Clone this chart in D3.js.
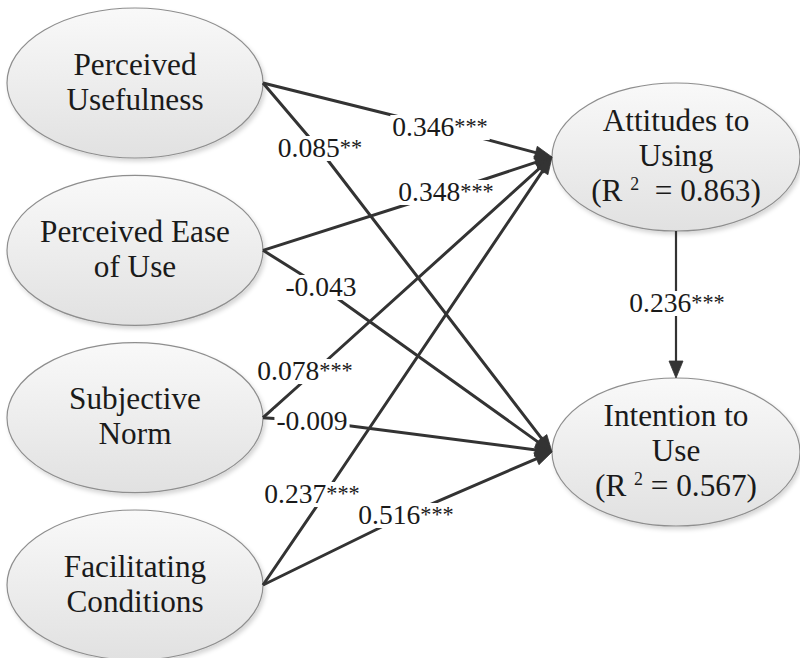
<!DOCTYPE html>
<html><head><meta charset="utf-8">
<script src="https://cdn.jsdelivr.net/npm/d3@7"></script>
<style>html,body{margin:0;padding:0;background:#fff;} svg{display:block;} text{white-space:pre;}</style>
</head><body>
<svg id="chart" width="800" height="658"></svg>
<script>
// ---- data ----
const nodeIds = ["PU", "PEOU", "SN", "FC", "ATT", "INT"];
const nodeLabels = [["Perceived", "Usefulness"], ["Perceived Ease", "of Use"], ["Subjective", "Norm"],
                    ["Facilitating", "Conditions"], ["Attitudes to", "Using"], ["Intention to", "Use"]];
const rSquared = [null, null, null, null, 0.863, 0.567];
const rSquaredGap = ["", "", "", "", "  ", " "];
const pathFrom = ["PU", "PU", "PEOU", "PEOU", "SN", "SN", "FC", "FC", "ATT"];
const pathTo   = ["ATT", "INT", "ATT", "INT", "ATT", "INT", "ATT", "INT", "INT"];
const pathCoef = [0.346, 0.085, 0.348, -0.043, 0.078, -0.009, 0.237, 0.516, 0.236];
const pathSig  = ["***", "**", "***", "", "***", "", "***", "***", "***"];

// ---- font detection (pick an installed serif face) ----
const cv = document.createElement("canvas").getContext("2d");
function w(font, s) { cv.font = font; return cv.measureText(s).width; }
const probe = "Perceived Ease 0.346 mmmWWWiii";
const candidates = ["Liberation Serif", "Tinos", "Times New Roman", "DejaVu Serif", "Noto Serif", "FreeSerif"];
let FONT = "serif";
for (const c of candidates) {
  if (Math.abs(w(`40px "${c}", monospace`, probe) - w("40px monospace", probe)) > 1 &&
      Math.abs(w(`40px "${c}", sans-serif`, probe) - w("40px sans-serif", probe)) > 1) { FONT = `"${c}"`; break; }
}
const NODE_FS = Math.max(20, Math.min(34, 30 * 190 / w(`30px ${FONT}`, "Perceived Ease")));
const LAB_FS = Math.max(18, Math.min(30, 27 * 62 / w(`27px ${FONT}`, "0.346")));
const STAR_FS = LAB_FS * 0.81;

// ---- layout ----
const leftRows = d3.scalePoint().domain(["PU", "PEOU", "SN", "FC"]).range([83, 585]);
const rightRows = d3.scalePoint().domain(["ATT", "INT"]).range([157, 452]);
const colX = d3.scaleOrdinal().domain(["left", "right"]).range([135, 676]);
const bendPts = [[440,127],[320,150],[446,192],[320,286],[305,380],[312,421],[323,497],[406,515],null];
const labelPts = [[440,127],[320,148],[446,192],[321,287],[305,371],[312,421],[312,494],[406,515],[677,303]];

const svg = d3.select("#chart");
const defs = svg.append("defs");
const grad = defs.append("linearGradient").attr("id","nodeFill").attr("x1",0).attr("y1",0).attr("x2",0).attr("y2",1);
grad.append("stop").attr("offset","0%").attr("stop-color","#f9f9f9");
grad.append("stop").attr("offset","100%").attr("stop-color","#e1e1e1");
const filt = defs.append("filter").attr("id","shadow").attr("x","-10%").attr("y","-10%").attr("width","130%").attr("height","130%");
filt.append("feDropShadow").attr("dx",2).attr("dy",3).attr("stdDeviation",2).attr("flood-color","#000").attr("flood-opacity",0.16);

const nodes = nodeIds.map((id, i) => {
  const left = i < 4;
  return { id, lines: nodeLabels[i], r2: rSquared[i], gap: rSquaredGap[i],
    cx: colX(left ? "left" : "right"), cy: left ? leftRows(id) : rightRows(id),
    rx: left ? 128 : 124, ry: left ? 75 : 74 };
});
const byId = Object.fromEntries(nodes.map(n => [n.id, n]));

// ---- nodes ----
const ng = svg.append("g").selectAll("g").data(nodes).join("g");
ng.append("ellipse")
  .attr("cx", d => d.cx).attr("cy", d => d.cy).attr("rx", d => d.rx).attr("ry", d => d.ry)
  .attr("fill", "url(#nodeFill)").attr("stroke", "#8e8e8e").attr("stroke-width", 1.2)
  .attr("filter", "url(#shadow)");
ng.each(function(d) {
  const g = d3.select(this);
  const n = d.lines.length + (d.r2 != null ? 1 : 0);
  const yAt = i => d.cy + 9 + (i - (n - 1) / 2) * 35;
  d.lines.forEach((t, i) => {
    g.append("text").attr("x", d.cx).attr("y", yAt(i))
      .attr("text-anchor", "middle").style("font-family", FONT)
      .attr("font-size", NODE_FS).attr("fill", "#1a1a1a").text(t);
  });
  if (d.r2 != null) {
    const t = g.append("text").attr("x", d.cx).attr("y", yAt(n - 1))
      .attr("text-anchor", "middle").style("font-family", FONT)
      .attr("font-size", NODE_FS).attr("fill", "#1a1a1a");
    t.append("tspan").text("(R ");
    t.append("tspan").attr("font-size", NODE_FS * 0.57).attr("dy", -11).text("2");
    t.append("tspan").attr("dy", 11).text(d.gap + "= " + d.r2.toFixed(3) + ")");
  }
});

// ---- paths ----
const edges = pathFrom.map((f, i) => {
  const s = byId[f], t = byId[pathTo[i]];
  let src, tip;
  if (s.id === "ATT") { src = [s.cx, s.cy + s.ry]; tip = [t.cx, t.cy - t.ry]; }
  else { src = [s.cx + s.rx, s.cy]; tip = [t.cx - t.rx, t.cy]; }
  return { i, src, tip, bend: bendPts[i], label: labelPts[i], coef: pathCoef[i], sig: pathSig[i] };
});
const lineGen = d3.line();
const AL = 17, AW = 6.5;
const eg = svg.append("g");
edges.forEach(e => {
  const prev = e.bend || e.src;
  const dx = e.tip[0] - prev[0], dy = e.tip[1] - prev[1];
  const len = Math.hypot(dx, dy), ux = dx / len, uy = dy / len;
  const end = [e.tip[0] - ux * (AL - 3), e.tip[1] - uy * (AL - 3)];
  const pts = e.bend ? [e.src, e.bend, end] : [e.src, end];
  const vert = e.src[0] === e.tip[0];
  eg.append("path").attr("d", lineGen(pts)).attr("fill", "none")
    .attr("stroke", "#333").attr("stroke-width", vert ? 2.2 : 3).attr("stroke-linejoin", "round");
  const bx = e.tip[0] - ux * AL, by = e.tip[1] - uy * AL;
  const hw = vert ? 7 : AW;
  eg.append("path").attr("d", lineGen([e.tip, [bx - uy * hw, by + ux * hw], [bx + uy * hw, by - ux * hw]]) + "Z")
    .attr("fill", "#333").attr("stroke", "#333").attr("stroke-width", 0.8).attr("stroke-linejoin", "miter");
});

// ---- labels ----
const lg = svg.append("g");
edges.forEach(e => {
  const g = lg.append("g");
  const t = g.append("text").attr("x", e.label[0]).attr("y", e.label[1] + 9)
    .attr("text-anchor", "middle").style("font-family", FONT)
    .attr("font-size", LAB_FS).attr("fill", "#1a1a1a");
  t.append("tspan").text(e.coef.toFixed(3));
  if (e.sig) t.append("tspan").attr("font-size", STAR_FS).attr("dy", -2).text(e.sig);
  const bb = t.node().getBBox();
  g.insert("rect", "text").attr("x", bb.x - 2).attr("y", e.label[1] - 12)
    .attr("width", bb.width + 4).attr("height", 25).attr("fill", "#fff");
});
</script>
</body></html>
